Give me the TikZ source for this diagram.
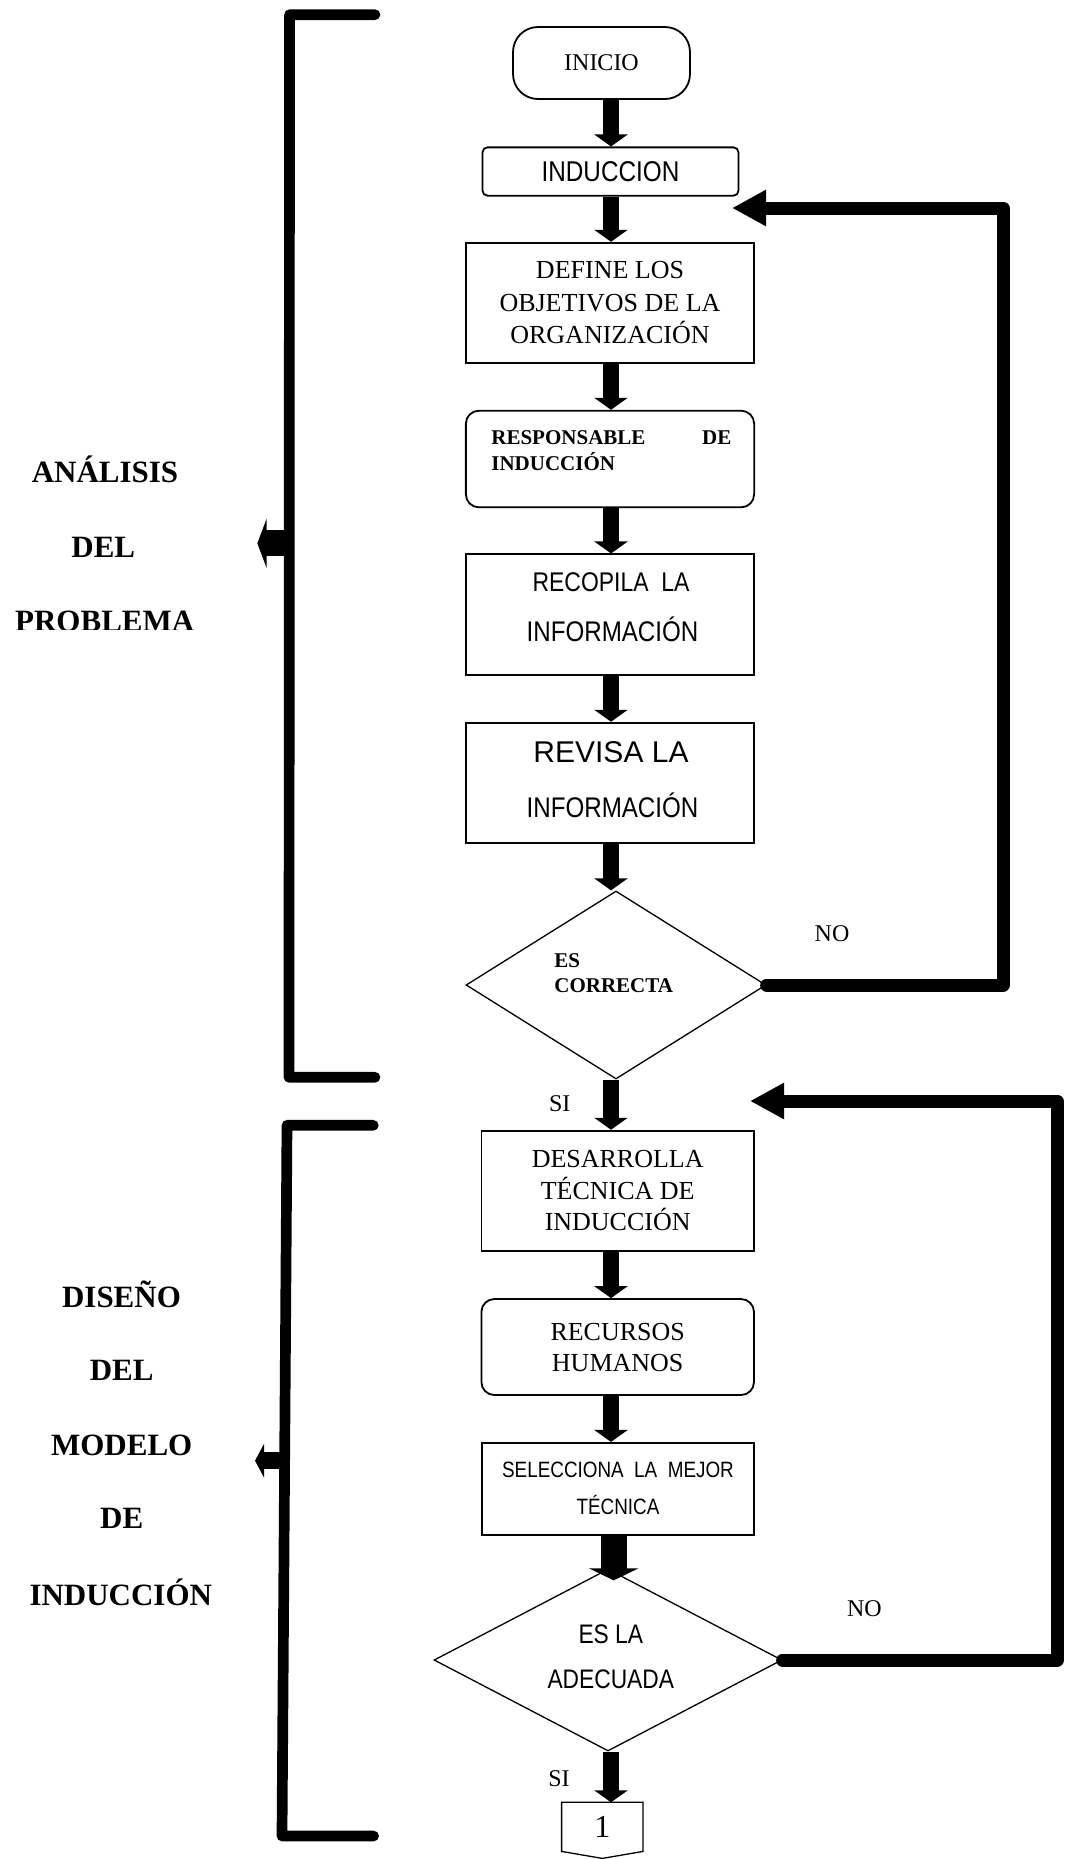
\documentclass[tikz,border=0pt]{standalone}
\usepackage{fontspec}
\setmainfont{Liberation Serif}
\newfontfamily\arialf{Liberation Sans}
\newfontfamily\narrowf[FakeStretch=0.85]{Liberation Sans}
\usetikzlibrary{arrows.meta,shapes.geometric,calc}
\begin{document}
\begin{tikzpicture}[x=0.5pt,y=-0.5pt,
  boxshape/.style={draw, line width=0.9pt, inner sep=0pt, align=center},
  rbox/.style={boxshape, rounded corners=6.5pt},
  dia/.style={diamond, draw, line width=0.65pt, inner sep=0pt},
  flowarrow/.style={line width=8pt, -{Triangle[length=6pt,width=16.5pt]}},
  bigarrow/.style={line width=13pt, -{Triangle[length=6pt,width=24.5pt]}},
  loopline/.style={line width=6.5pt, line cap=round, line join=round, -{Triangle[length=17pt,width=17pt]}},
  bracketline/.style={line width=5.35pt, line cap=round, line join=round},
  tnr/.style={font=\fontsize{12}{14}\selectfont, inner sep=0pt},
  nar/.style={font=\narrowf\fontsize{14.2}{17}\selectfont, inner sep=0pt},
  lbl/.style={font=\bfseries\fontsize{15.5}{18}\selectfont, inner sep=0pt, anchor=base}
]
\useasboundingbox (0,0) rectangle (1065,1859);
\coordinate (colx) at (611,0);

% ---------- left brackets ----------
\coordinate (b1a) at (375,14.7);
\coordinate (b1b) at (289.5,14.7);
\coordinate (b1c) at (289,1077.3);
\coordinate (b1d) at (375,1077.3);
\draw[bracketline] (b1a) -- (b1b) -- (b1c) -- (b1d);
\coordinate (b1m) at (289,543.3);
\coordinate (b1t) at (257.3,543.3);
\draw[line width=12.85pt, -{Triangle[length=4.7pt,width=24.7pt]}] (b1m) -- (b1t);

\coordinate (b2a) at (373.3,1125.3);
\coordinate (b2b) at (287,1125.3);
\coordinate (b2c) at (282,1836);
\coordinate (b2d) at (373.6,1836);
\draw[bracketline] (b2a) -- (b2b) -- (b2c) -- (b2d);
\coordinate (b2m) at (284,1460.7);
\coordinate (b2t) at (255,1460.7);
\draw[line width=8.65pt, -{Triangle[length=4.5pt,width=16.7pt]}] (b2m) -- (b2t);

% ---------- left labels ----------
\node[lbl] (lab1) at (105,482.7) {ANÁLISIS};
\node[lbl] (lab2) at (103.3,557.3) {DEL};
\begin{scope}
  \clip (0,590) rectangle (300,629);
  \node[lbl] (lab3) at (104.7,631.2) {PROBLEMA};
\end{scope}
\node[lbl] (lab4) at (121.5,1307.5) {DISEÑO};
\node[lbl] (lab5) at (121.7,1380.7) {DEL};
\node[lbl] (lab6) at (121.7,1455) {MODELO};
\node[lbl] (lab7) at (121.7,1528.3) {DE};
\node[lbl] (lab8) at (120.8,1605) {INDUCCIÓN};

% ---------- upper flow ----------
\node[boxshape, rounded corners=12.5pt, minimum width=88.5pt, minimum height=36pt,
      font=\fontsize{12}{14}\selectfont] (inicio) at (601.5,63) {INICIO};
\node[boxshape, rounded corners=2.5pt, minimum width=128pt, minimum height=24.15pt,
      font=\narrowf\fontsize{14.3}{17}\selectfont] (induc) at (610.5,171.5) {INDUCCION};
\node[boxshape, minimum width=144.15pt, minimum height=60pt,
      font=\fontsize{13}{16.25}\selectfont] (define) at (610,302.7)
      {DEFINE LOS\\OBJETIVOS DE LA\\ORGANIZACIÓN};
\node[rbox, minimum width=144.15pt, minimum height=48.3pt] (resp) at (610,459) {};
\node[anchor=north west, inner sep=0pt, text width=120pt, align=left,
      font=\bfseries\fontsize{10.5}{12.85}\selectfont] (resptext) at (491,430)
      {RESPONSABLE\hfill DE\\INDUCCIÓN};
\node[boxshape, minimum width=144.15pt, minimum height=60.35pt] (recop) at (610,614.7) {};
\node[nar, font=\narrowf\fontsize{13.5}{16}\selectfont, anchor=base] (recop1) at (611,591.7) {RECOPILA\ \ LA};
\node[nar, anchor=base] (recop2) at (612.5,641.7) {INFORMACIÓN};
\node[boxshape, minimum width=144.15pt, minimum height=60.15pt] (revisa) at (610,782.8) {};
\node[inner sep=0pt, anchor=base, font=\arialf\fontsize{15}{18}\selectfont] (revisa1) at (611,762.7) {REVISA LA};
\node[nar, anchor=base] (revisa2) at (612.5,817.3) {INFORMACIÓN};
\node[dia, minimum width=150pt, minimum height=94pt] (d1) at (616,985) {};
\node[anchor=north west, align=left, inner sep=0pt,
      font=\bfseries\fontsize{10.5}{12.5}\selectfont] (d1text) at (554,953.3) {ES\\CORRECTA};
\node[tnr, anchor=base] (no1) at (832,941.5) {NO};
\node[tnr, anchor=base] (si1) at (559.8,1111.7) {SI};

% ---------- lower flow ----------
\node[boxshape, minimum width=136.3pt, minimum height=60.15pt,
      font=\fontsize{13}{15.8}\selectfont] (desar) at (617.7,1190.8)
      {DESARROLLA\\TÉCNICA DE\\INDUCCIÓN};
\node[rbox, minimum width=136.3pt, minimum height=48pt,
      font=\fontsize{13}{15.5}\selectfont] (recur) at (617.7,1347) {RECURSOS\\HUMANOS};
\node[boxshape, minimum width=136.3pt, minimum height=46pt,
      font=\narrowf\fontsize{11.1}{18.5}\selectfont] (selec) at (618,1488.8)
      {SELECCIONA\ \ LA\ \ MEJOR\\TÉCNICA};
\node[dia, minimum width=174pt, minimum height=91pt] (d2) at (608,1660) {};
\node[inner sep=0pt, anchor=base, font=\narrowf\fontsize{13.4}{16}\selectfont] (d2t1) at (610.8,1643.3) {ES LA};
\node[inner sep=0pt, anchor=base, font=\narrowf\fontsize{13.4}{16}\selectfont] (d2t2) at (610.8,1688.3) {ADECUADA};
\node[tnr, anchor=base] (no2) at (864.4,1616.7) {NO};
\node[tnr, anchor=base] (si2) at (559,1786.7) {SI};
\node[inner sep=0pt, minimum width=40.3pt, minimum height=24.15pt,
      font=\fontsize{16}{18}\selectfont] (conn) at (602.3,1826.85) {1};
\draw[line width=0.65pt] (conn.north west) -- (conn.north east) -- (conn.south east)
      -- ($(conn.south)+(0,7)$) -- (conn.south west) -- cycle;

% ---------- flow arrows ----------
\draw[flowarrow] (inicio.south -| colx) -- (induc.north -| colx);
\draw[flowarrow] (induc.south -| colx) -- (define.north -| colx);
\draw[flowarrow] (define.south -| colx) -- (resp.north -| colx);
\draw[flowarrow] (resp.south -| colx) -- (recop.north -| colx);
\draw[flowarrow] (recop.south -| colx) -- (revisa.north -| colx);
\draw[flowarrow] (revisa.south -| colx) -- (d1.north -| colx);
\draw[flowarrow] (d1.south -| colx) -- (desar.north -| colx);
\draw[flowarrow] (desar.south -| colx) -- (recur.north -| colx);
\draw[flowarrow] (recur.south -| colx) -- (selec.north -| colx);
\draw[bigarrow] ($(selec.south -| colx)+(2.7,0)$) -- ($(d2.north -| colx)+(2.7,12)$);
\draw[flowarrow] (d2.south -| colx) -- (conn.north -| colx);

% ---------- feedback loops ----------
\coordinate (lr1) at (1003,208);
\coordinate (fb1) at (732,208);
\draw[loopline] (d1.east) -- (d1.east -| lr1) -- (lr1) -- (fb1);
\coordinate (lr2) at (1057,1101);
\coordinate (fb2) at (750,1101);
\draw[loopline] (d2.east) -- (d2.east -| lr2) -- (lr2) -- (fb2);
\end{tikzpicture}
\end{document}
